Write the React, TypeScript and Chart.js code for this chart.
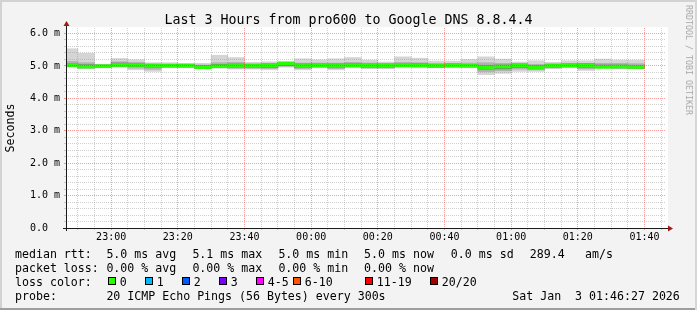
import React, { useEffect, useRef } from "react";
import { Chart, registerables } from "chart.js";

Chart.register(...registerables);

const MONO = '"DejaVu Sans Mono", monospace';

// ---- data ----
const binTimes = [
  "22:45", "22:50", "22:55", "23:00", "23:05", "23:10", "23:15", "23:20", "23:25", "23:30",
  "23:35", "23:40", "23:45", "23:50", "23:55", "00:00", "00:05", "00:10", "00:15", "00:20",
  "00:25", "00:30", "00:35", "00:40", "00:45", "00:50", "00:55", "01:00", "01:05", "01:10",
  "01:15", "01:20", "01:25", "01:30", "01:35",
];
const pingMin = [4.96, 4.91, 4.97, 4.96, 4.88, 4.83, 4.97, 4.96, 4.92, 4.93, 4.90, 4.90, 4.88, 4.96, 4.88, 4.96, 4.88, 4.96, 4.91, 4.91, 4.98, 4.96, 4.96, 4.96, 4.97, 4.73, 4.77, 4.83, 4.83, 4.91, 4.96, 4.86, 4.96, 4.91, 4.91];
const pingMax = [5.53, 5.39, 5.03, 5.23, 5.19, 5.10, 5.10, 5.08, 5.08, 5.33, 5.26, 5.11, 5.13, 5.13, 5.22, 5.19, 5.22, 5.26, 5.18, 5.12, 5.28, 5.24, 5.15, 5.15, 5.20, 5.28, 5.21, 5.12, 5.16, 5.11, 5.16, 5.16, 5.21, 5.18, 5.18];
const midLo = [4.98, 4.93, 4.97, 4.98, 4.93, 4.89, 4.97, 4.97, 4.93, 4.95, 4.93, 4.93, 4.92, 4.99, 4.92, 4.97, 4.92, 4.97, 4.94, 4.94, 4.98, 4.97, 4.96, 4.97, 4.97, 4.82, 4.85, 4.90, 4.88, 4.94, 4.97, 4.91, 4.96, 4.93, 4.93];
const midHi = [5.14, 5.10, 5.03, 5.13, 5.11, 5.07, 5.06, 5.06, 5.03, 5.10, 5.11, 5.07, 5.08, 5.12, 5.09, 5.09, 5.09, 5.11, 5.09, 5.07, 5.11, 5.10, 5.08, 5.08, 5.09, 5.10, 5.08, 5.07, 5.05, 5.07, 5.08, 5.08, 5.08, 5.08, 5.07];
const innerLo = [4.99, 4.95, 4.97, 4.99, 4.98, 4.95, 4.97, 4.97, 4.93, 4.96, 4.95, 4.95, 4.95, 5.01, 4.95, 4.97, 4.95, 4.97, 4.96, 4.96, 4.98, 4.97, 4.96, 4.97, 4.97, 4.90, 4.91, 4.95, 4.91, 4.95, 4.97, 4.96, 4.96, 4.94, 4.93];
const innerHi = [5.08, 5.04, 5.03, 5.09, 5.08, 5.05, 5.05, 5.05, 5.01, 5.05, 5.06, 5.05, 5.06, 5.11, 5.06, 5.06, 5.06, 5.07, 5.06, 5.06, 5.06, 5.07, 5.05, 5.06, 5.05, 5.02, 5.03, 5.06, 5.01, 5.05, 5.06, 5.07, 5.03, 5.03, 5.02];
const medianRtt = [5.03, 4.98, 4.99, 5.03, 5.03, 5.00, 5.00, 5.00, 4.96, 4.99, 5.00, 5.00, 5.01, 5.07, 5.00, 5.01, 5.00, 5.02, 5.01, 5.01, 5.01, 5.02, 5.00, 5.01, 5.00, 4.96, 4.98, 5.01, 4.96, 5.00, 5.01, 5.02, 4.97, 4.98, 4.97];

const xTickLabels = ["23:00", "23:20", "23:40", "00:00", "00:20", "00:40", "01:00", "01:20", "01:40"];
const yTickLabels = ["0.0", "1.0 m", "2.0 m", "3.0 m", "4.0 m", "5.0 m", "6.0 m"];

const rttStatNames = ["avg", "max", "min", "now"];
const rttStatValues = ["5.0", "5.1", "5.0", "5.0"];
const rttSd = "0.0";
const amPerS = "289.4";
const lossStatValues = ["0.00", "0.00", "0.00", "0.00"];
const lossLabels = ["0", "1", "2", "3", "4-5", "6-10", "11-19", "20/20"];
const lossColors = ["#26ff00", "#00b8ff", "#0059ff", "#7e00ff", "#ff00ff", "#ff5500", "#ff0000", "#a00000"];

const titleText = "Last 3 Hours from pro600 to Google DNS 8.8.4.4";
const probeText = "20 ICMP Echo Pings (56 Bytes) every 300s";
const dateText = "Sat Jan  3 01:46:27 2026";

// time window (minutes since 22:00)
const X_MIN = 46.45; // 22:46:27
const X_MAX = 226.45; // 01:46:27
const Y_MAX = 6.17;

function toMin(s: string) {
  const [h, m] = s.split(":").map(Number);
  return ((h < 12 ? h + 24 : h) - 22) * 60 + m;
}
function tickMinToLabel(v: number) {
  const idx = (v - 60) / 20;
  if (Number.isInteger(idx) && idx >= 0 && idx < xTickLabels.length) return xTickLabels[idx];
  return "";
}

const MAJOR = "rgba(235,40,40,0.45)";
const MINOR = "rgba(150,150,150,0.45)";

const framePlugin = {
  id: "frame",
  beforeDraw(chart: any) {
    const { ctx, chartArea: a } = chart;
    ctx.save();
    ctx.fillStyle = "#ffffff";
    ctx.fillRect(a.left, a.top - 1, a.right - a.left + 2, a.bottom - a.top + 1);
    ctx.restore();
  },
  afterDraw(chart: any) {
    const { ctx, chartArea: a } = chart;
    const xb = Math.round(a.bottom) + 0.5;
    const yl = Math.round(a.left) + 0.5;
    ctx.save();
    ctx.strokeStyle = "#1a1a1a";
    ctx.lineWidth = 1;
    ctx.beginPath();
    ctx.moveTo(a.left - 3, xb);
    ctx.lineTo(a.right + 3, xb);
    ctx.stroke();
    ctx.beginPath();
    ctx.moveTo(yl, a.bottom + 3);
    ctx.lineTo(yl, a.top - 2);
    ctx.stroke();
    ctx.fillStyle = "#a01818";
    ctx.beginPath();
    ctx.moveTo(a.right + 2, xb - 3);
    ctx.lineTo(a.right + 7, xb);
    ctx.lineTo(a.right + 2, xb + 3);
    ctx.closePath();
    ctx.fill();
    ctx.beginPath();
    ctx.moveTo(yl - 3, a.top - 2);
    ctx.lineTo(yl, a.top - 7);
    ctx.lineTo(yl + 3, a.top - 2);
    ctx.closePath();
    ctx.fill();
    ctx.restore();
  },
};

export default function App() {
  const ref = useRef<HTMLCanvasElement | null>(null);

  useEffect(() => {
    if (!ref.current) return;
    const centers = binTimes.map((t) => toMin(t) + 2.5);
    const band = (lo: number[], hi: number[]) => centers.map((x, i) => ({ x, y: [lo[i], hi[i]] }));
    const medBand = centers.map((x, i) => ({ x, y: [medianRtt[i] - 0.046, medianRtt[i] + 0.046] }));
    const common = {
      type: "bar" as const,
      stack: "smoke",
      borderWidth: 0,
      barPercentage: 1,
      categoryPercentage: 1,
    };
    const xGrid: number[] = [];
    for (let v = 50; v <= 225; v += 5) xGrid.push(v);
    const yGrid: number[] = [];
    for (let i = 0; i <= 30; i++) yGrid.push(i / 5);

    const chart = new Chart(ref.current, {
      type: "bar",
      data: {
        datasets: [
          { ...common, label: "median", data: medBand as any, backgroundColor: lossColors[0], order: 0 },
          { ...common, label: "inner", data: band(innerLo, innerHi) as any, backgroundColor: "#7c7c7c", order: 1 },
          { ...common, label: "mid", data: band(midLo, midHi) as any, backgroundColor: "#b2b2b2", order: 2 },
          { ...common, label: "outer", data: band(pingMin, pingMax) as any, backgroundColor: "#d5d5d5", order: 3 },
        ],
      },
      options: {
        responsive: false,
        animation: false,
        devicePixelRatio: 1,
        events: [],
        layout: { padding: { left: 0, right: 31, top: 28, bottom: 0 } },
        plugins: { legend: { display: false }, title: { display: false }, tooltip: { enabled: false } },
        scales: {
          x: {
            type: "linear",
            min: X_MIN,
            max: X_MAX,
            offset: false,
            afterBuildTicks: (s: any) => {
              s.ticks = xGrid.map((v) => ({ value: v }));
            },
            afterFit: (s: any) => {
              s.height = 82;
            },
            grid: {
              offset: false,
              z: 1,
              drawTicks: true,
              tickLength: 2,
              tickBorderDash: [],
              color: (c: any) => (c.tick && (c.tick.value - 60) % 20 === 0 ? MAJOR : MINOR),
            },
            border: { display: false, dash: [1, 1] },
            ticks: {
              autoSkip: false,
              maxRotation: 0,
              minRotation: 0,
              padding: 1,
              color: "#000",
              font: { family: MONO, size: 10 },
              callback: (v: any) => tickMinToLabel(Number(v)),
            },
          },
          y: {
            type: "linear",
            min: 0,
            max: Y_MAX,
            stacked: false,
            afterBuildTicks: (s: any) => {
              s.ticks = yGrid.map((v) => ({ value: v }));
            },
            afterFit: (s: any) => {
              s.width = 66;
            },
            grid: {
              z: 1,
              drawTicks: true,
              tickLength: 2,
              tickBorderDash: [],
              color: (c: any) => (c.tick && Math.abs(c.tick.value - Math.round(c.tick.value)) < 1e-6 ? MAJOR : MINOR),
            },
            border: { display: false, dash: [1, 1] },
            ticks: {
              autoSkip: false,
              padding: 4,
              color: "#000",
              font: { family: MONO, size: 10 },
              callback: (v: any) => {
                const n = Number(v);
                const r = Math.round(n);
                if (Math.abs(n - r) > 1e-6 || r < 0 || r >= yTickLabels.length) return "";
                return yTickLabels[r].padEnd(5, " ");
              },
            },
          },
        },
      } as any,
      plugins: [framePlugin],
    });
    return () => chart.destroy();
  }, []);

  const legendFont: React.CSSProperties = {
    position: "absolute",
    fontFamily: MONO,
    fontSize: "11.6px",
    lineHeight: "14px",
    whiteSpace: "pre",
    color: "#000",
  };
  const statX = [106.4, 192.4, 278.4, 364.1];
  const boxX = [108, 145, 182, 219, 256, 293, 365, 430];
  const rowTop = [246.5, 260.7, 275, 289];

  return (
    <div
      style={{
        position: "fixed",
        left: 0,
        top: 0,
        width: 697,
        height: 310,
        background: "#f3f3f3",
        overflow: "hidden",
        fontFamily: MONO,
      }}
    >
      <canvas ref={ref} width={697} height={310} style={{ position: "absolute", left: 0, top: 0 }} />

      <div
        style={{
          position: "absolute",
          left: 0,
          width: 697,
          top: 11.5,
          textAlign: "center",
          fontFamily: MONO,
          fontSize: "13.3px",
          lineHeight: "16px",
          whiteSpace: "pre",
          color: "#000",
        }}
      >
        {titleText}
      </div>

      <div
        style={{
          position: "absolute",
          left: 10,
          top: 128,
          transform: "translate(-50%, -50%) rotate(-90deg)",
          fontFamily: MONO,
          fontSize: "11.6px",
          lineHeight: "14px",
          whiteSpace: "pre",
          color: "#000",
        }}
      >
        Seconds
      </div>

      <div
        style={{
          position: "absolute",
          left: 689,
          top: 60,
          transform: "translate(-50%, -50%) rotate(90deg)",
          fontFamily: MONO,
          fontSize: "8.3px",
          lineHeight: "10px",
          whiteSpace: "pre",
          color: "#a8a8a8",
        }}
      >
        RRDTOOL / TOBI OETIKER
      </div>

      {/* row 1: median rtt */}
      <div style={{ ...legendFont, left: 15, top: rowTop[0] }}>median rtt:</div>
      {rttStatNames.map((n, i) => (
        <div key={"r" + n} style={{ ...legendFont, left: statX[i], top: rowTop[0] }}>
          {`${rttStatValues[i]} ms ${n}`}
        </div>
      ))}
      <div style={{ ...legendFont, left: 450.8, top: rowTop[0] }}>{`${rttSd} ms sd`}</div>
      <div style={{ ...legendFont, left: 529.8, top: rowTop[0] }}>{amPerS}</div>
      <div style={{ ...legendFont, left: 585, top: rowTop[0] }}>am/s</div>

      {/* row 2: packet loss */}
      <div style={{ ...legendFont, left: 15, top: rowTop[1] }}>packet loss:</div>
      {rttStatNames.map((n, i) => (
        <div key={"l" + n} style={{ ...legendFont, left: statX[i], top: rowTop[1] }}>
          {`${lossStatValues[i]} % ${n}`}
        </div>
      ))}

      {/* row 3: loss color */}
      <div style={{ ...legendFont, left: 15, top: rowTop[2] }}>loss color:</div>
      {lossLabels.map((l, i) => (
        <React.Fragment key={"c" + l}>
          <div
            style={{
              position: "absolute",
              left: boxX[i],
              top: 277,
              width: 8,
              height: 8,
              boxSizing: "border-box",
              border: "1px solid #000",
              background: lossColors[i],
            }}
          />
          <div style={{ ...legendFont, left: boxX[i] + 11.8, top: rowTop[2] }}>{l}</div>
        </React.Fragment>
      ))}

      {/* row 4: probe */}
      <div style={{ ...legendFont, left: 15, top: rowTop[3] }}>probe:</div>
      <div style={{ ...legendFont, left: 106.4, top: rowTop[3] }}>{probeText}</div>
      <div style={{ ...legendFont, left: 512.3, top: rowTop[3] }}>{dateText}</div>

      {/* 3D frame */}
      <div style={{ position: "absolute", left: 0, top: 0, width: 697, height: 2, background: "#d2d2d2" }} />
      <div style={{ position: "absolute", left: 0, top: 0, width: 2, height: 310, background: "#d2d2d2" }} />
      <div style={{ position: "absolute", left: 0, top: 308, width: 697, height: 2, background: "#9e9e9e" }} />
      <div style={{ position: "absolute", left: 695, top: 0, width: 2, height: 310, background: "#d6d6d6" }} />
    </div>
  );
}
